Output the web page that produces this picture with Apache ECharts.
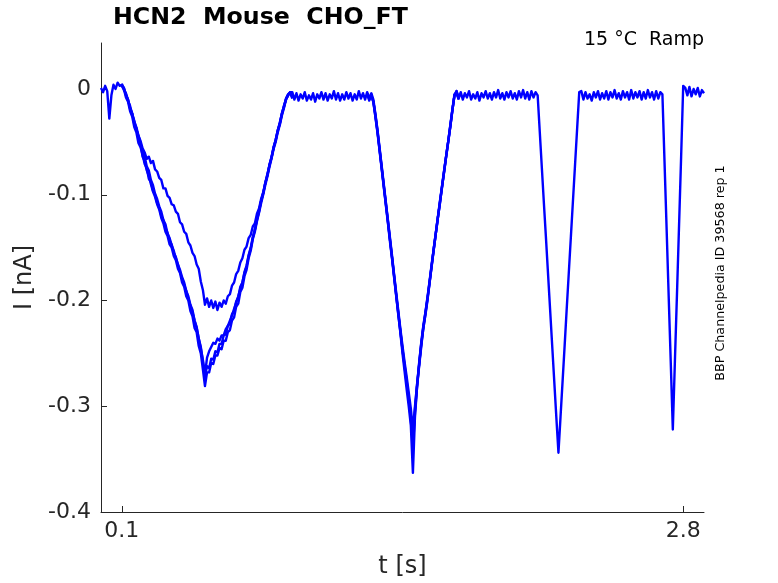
<!DOCTYPE html>
<html>
<head>
<meta charset="utf-8">
<script src="https://cdn.jsdelivr.net/npm/echarts@6/dist/echarts.min.js"></script>
<style>
html,body{margin:0;padding:0;background:#fff;}
#chart{width:778px;height:583px;}
</style>
</head>
<body>
<div id="chart"></div>
<script>
// ---- Data ----
const titleText = 'HCN2  Mouse  CHO_FT';
const conditionText = '15 \u00B0C  Ramp';
const sideText = 'BBP Channelpedia ID 39568 rep 1';
const xTickValues = [0.1, 2.8];
const yTickValues = [-0.4, -0.3, -0.2, -0.1, 0];

// sample times [s]
const time = [
0,0.01,0.02,0.03,0.04,0.05,0.06,0.07,0.08,0.09,
0.1,0.11,0.12,0.13,0.14,0.15,0.16,0.17,0.18,0.19,
0.2,0.21,0.22,0.23,0.24,0.25,0.26,0.27,0.28,0.29,
0.3,0.31,0.32,0.33,0.34,0.35,0.36,0.37,0.38,0.39,
0.4,0.41,0.42,0.43,0.44,0.45,0.46,0.47,0.48,0.49,
0.5,0.51,0.52,0.53,0.54,0.55,0.56,0.57,0.58,0.59,
0.6,0.61,0.62,0.63,0.64,0.65,0.66,0.67,0.68,0.69,
0.7,0.71,0.72,0.73,0.74,0.75,0.76,0.77,0.78,0.79,
0.8,0.81,0.82,0.83,0.84,0.85,0.86,0.87,0.88,0.89,
0.9,0.91,0.92,0.93,0.94,0.95,0.96,0.97,0.98,0.99,
1,1.01,1.02,1.03,1.04,1.05,1.06,1.07,1.08,1.09,
1.1,1.11,1.12,1.13,1.14,1.15,1.16,1.17,1.18,1.19,
1.2,1.21,1.22,1.23,1.24,1.25,1.26,1.27,1.28,1.29,
1.3,1.31,1.32,1.33,1.34,1.35,1.36,1.37,1.38,1.39,
1.4,1.41,1.42,1.43,1.44,1.45,1.46,1.47,1.48,1.49,
1.5,1.51,1.52,1.53,1.54,1.55,1.56,1.57,1.58,1.59,
1.6,1.61,1.62,1.63,1.64,1.65,1.66,1.67,1.68,1.69,
1.7,1.71,1.72,1.73,1.74,1.75,1.76,1.77,1.78,1.79,
1.8,1.81,1.82,1.83,1.84,1.85,1.86,1.87,1.88,1.89,
1.9,1.91,1.92,1.93,1.94,1.95,1.96,1.97,1.98,1.99,
2,2.01,2.02,2.03,2.04,2.05,2.06,2.07,2.08,2.09,
2.1,2.11,2.12,2.13,2.14,2.15,2.16,2.17,2.18,2.19,
2.2,2.21,2.22,2.23,2.24,2.25,2.26,2.27,2.28,2.29,
2.3,2.31,2.32,2.33,2.34,2.35,2.36,2.37,2.38,2.39,
2.4,2.41,2.42,2.43,2.44,2.45,2.46,2.47,2.48,2.49,
2.5,2.51,2.52,2.53,2.54,2.55,2.56,2.57,2.58,2.59,
2.6,2.61,2.62,2.63,2.64,2.65,2.66,2.67,2.68,2.69,
2.7,2.71,2.72,2.73,2.74,2.75,2.76,2.77,2.78,2.79,
2.8,2.81,2.82,2.83,2.84,2.85,2.86,2.87,2.88,2.89,
2.9
];

// sweep 1: full record [nA]
const sweep1 = [
0.001,-0.003,0.003,-0.002,-0.028,-0.006,0.004,0.000,0.006,0.003,
0.004,0.001,-0.006,-0.010,-0.019,-0.023,-0.033,-0.037,-0.047,-0.052,
-0.064,-0.068,-0.077,-0.082,-0.090,-0.097,-0.102,-0.109,-0.114,-0.122,
-0.127,-0.135,-0.139,-0.147,-0.150,-0.158,-0.162,-0.170,-0.174,-0.183,
-0.187,-0.196,-0.200,-0.210,-0.215,-0.226,-0.230,-0.243,-0.250,-0.265,
-0.281,-0.268,-0.268,-0.259,-0.260,-0.252,-0.252,-0.245,-0.246,-0.238,
-0.238,-0.230,-0.228,-0.219,-0.216,-0.206,-0.203,-0.192,-0.188,-0.177,
-0.171,-0.160,-0.153,-0.142,-0.135,-0.125,-0.117,-0.108,-0.100,-0.091,
-0.083,-0.074,-0.066,-0.057,-0.050,-0.041,-0.034,-0.025,-0.018,-0.010,
-0.006,-0.003,-0.003,-0.010,-0.004,-0.011,-0.005,-0.009,-0.003,-0.011,
-0.006,-0.010,-0.004,-0.012,-0.005,-0.009,-0.003,-0.010,-0.004,-0.011,
-0.005,-0.009,-0.002,-0.010,-0.004,-0.011,-0.005,-0.010,-0.003,-0.009,
-0.004,-0.011,-0.005,-0.010,-0.002,-0.009,-0.004,-0.010,-0.003,-0.009,
-0.006,-0.012,-0.025,-0.040,-0.058,-0.074,-0.092,-0.108,-0.126,-0.143,
-0.160,-0.178,-0.196,-0.213,-0.231,-0.250,-0.267,-0.284,-0.300,-0.318,
-0.363,-0.310,-0.282,-0.262,-0.244,-0.226,-0.214,-0.200,-0.184,-0.168,
-0.152,-0.137,-0.122,-0.108,-0.093,-0.079,-0.064,-0.050,-0.036,-0.020,
-0.006,-0.002,-0.009,-0.003,-0.010,-0.004,-0.008,-0.002,-0.010,-0.005,
-0.009,-0.003,-0.011,-0.004,-0.008,-0.002,-0.009,-0.004,-0.010,-0.003,
-0.008,-0.001,-0.009,-0.004,-0.010,-0.003,-0.008,-0.002,-0.009,-0.004,
-0.010,-0.002,-0.008,-0.001,-0.009,-0.003,-0.010,-0.002,-0.008,-0.003,
-0.006,-0.040,-0.074,-0.108,-0.141,-0.175,-0.209,-0.243,-0.277,-0.311,
-0.344,-0.310,-0.276,-0.242,-0.207,-0.173,-0.139,-0.105,-0.071,-0.037,
-0.003,-0.002,-0.010,-0.003,-0.009,-0.005,-0.011,-0.003,-0.008,-0.002,
-0.010,-0.004,-0.009,-0.002,-0.010,-0.003,-0.008,-0.001,-0.009,-0.004,
-0.010,-0.002,-0.008,-0.003,-0.010,-0.001,-0.009,-0.003,-0.008,-0.002,
-0.010,-0.003,-0.009,-0.001,-0.008,-0.003,-0.010,-0.002,-0.009,-0.003,
-0.005,-0.068,-0.131,-0.195,-0.258,-0.322,-0.258,-0.194,-0.129,-0.064,
0.003,0.001,-0.006,0.002,-0.007,0.000,-0.005,0.001,-0.007,-0.001,
-0.004
];

// sweeps 2-4 where they separate from sweep 1
// first ramp: samples time[10] .. time[92]
const dip1Start = 10;
const sweep2Dip1 = [
0.003,-0.001,-0.004,-0.011,-0.016,-0.024,-0.030,-0.038,-0.044,-0.051,
-0.059,-0.064,-0.073,-0.077,-0.086,-0.091,-0.099,-0.104,-0.111,-0.116,
-0.124,-0.128,-0.137,-0.141,-0.148,-0.153,-0.160,-0.166,-0.173,-0.179,
-0.185,-0.191,-0.198,-0.205,-0.211,-0.219,-0.226,-0.236,-0.245,-0.256,
-0.270,-0.254,-0.248,-0.244,-0.240,-0.241,-0.236,-0.238,-0.233,-0.233,
-0.227,-0.224,-0.219,-0.214,-0.208,-0.202,-0.196,-0.189,-0.183,-0.174,
-0.168,-0.158,-0.151,-0.141,-0.133,-0.124,-0.116,-0.106,-0.099,-0.089,
-0.082,-0.072,-0.065,-0.055,-0.048,-0.039,-0.032,-0.023,-0.016,-0.009,
-0.005,-0.004,-0.008
];
const sweep3Dip1 = [
0.005,0.000,-0.008,-0.012,-0.021,-0.026,-0.036,-0.041,-0.051,-0.055,
-0.062,-0.071,-0.075,-0.085,-0.088,-0.096,-0.100,-0.108,-0.112,-0.120,
-0.124,-0.131,-0.136,-0.143,-0.147,-0.155,-0.159,-0.166,-0.171,-0.178,
-0.183,-0.191,-0.196,-0.204,-0.209,-0.219,-0.225,-0.236,-0.244,-0.258,
-0.272,-0.262,-0.264,-0.255,-0.256,-0.248,-0.249,-0.241,-0.241,-0.233,
-0.232,-0.224,-0.222,-0.213,-0.210,-0.201,-0.197,-0.187,-0.183,-0.173,
-0.167,-0.157,-0.150,-0.140,-0.133,-0.123,-0.115,-0.106,-0.098,-0.089,
-0.081,-0.072,-0.064,-0.056,-0.048,-0.040,-0.032,-0.024,-0.016,-0.010,
-0.006,-0.003,-0.009
];
const sweep4Dip1 = [
0.003,0.001,-0.005,-0.010,-0.018,-0.023,-0.031,-0.036,-0.044,-0.049,
-0.056,-0.060,-0.066,-0.064,-0.070,-0.068,-0.076,-0.078,-0.084,-0.086,
-0.094,-0.094,-0.101,-0.103,-0.109,-0.110,-0.116,-0.118,-0.126,-0.128,
-0.135,-0.137,-0.145,-0.148,-0.155,-0.158,-0.166,-0.170,-0.182,-0.190,
-0.204,-0.198,-0.206,-0.200,-0.207,-0.201,-0.209,-0.202,-0.206,-0.200,
-0.203,-0.196,-0.194,-0.186,-0.183,-0.175,-0.172,-0.164,-0.160,-0.152,
-0.149,-0.141,-0.138,-0.130,-0.127,-0.118,-0.113,-0.104,-0.098,-0.089,
-0.081,-0.072,-0.065,-0.055,-0.049,-0.039,-0.033,-0.023,-0.017,-0.009,
-0.005,-0.003,-0.007
];
// second ramp: samples time[128] .. time[172]
const dip2Start = 128;
const sweep2Dip2 = [
-0.004,-0.010,-0.005,-0.013,-0.027,-0.042,-0.059,-0.076,-0.093,-0.110,
-0.127,-0.145,-0.161,-0.179,-0.196,-0.214,-0.230,-0.247,-0.262,-0.278,
-0.294,-0.312,-0.340,-0.306,-0.282,-0.259,-0.240,-0.224,-0.211,-0.197,
-0.182,-0.166,-0.151,-0.136,-0.121,-0.106,-0.092,-0.077,-0.063,-0.049,
-0.034,-0.019,-0.005,-0.004,-0.010
];
const sweep3Dip2 = [
-0.005,-0.008,-0.004,-0.010,-0.024,-0.039,-0.056,-0.073,-0.090,-0.107,
-0.124,-0.141,-0.158,-0.176,-0.193,-0.210,-0.227,-0.243,-0.258,-0.272,
-0.287,-0.302,-0.322,-0.300,-0.279,-0.260,-0.241,-0.225,-0.212,-0.198,
-0.183,-0.167,-0.152,-0.137,-0.122,-0.107,-0.092,-0.078,-0.063,-0.049,
-0.035,-0.020,-0.006,-0.003,-0.009
];
const sweep4Dip2 = [
-0.004,-0.011,-0.006,-0.012,-0.026,-0.041,-0.057,-0.075,-0.091,-0.109,
-0.125,-0.143,-0.160,-0.177,-0.195,-0.212,-0.229,-0.246,-0.261,-0.276,
-0.292,-0.308,-0.332,-0.303,-0.280,-0.261,-0.242,-0.227,-0.213,-0.199,
-0.183,-0.168,-0.152,-0.137,-0.122,-0.108,-0.093,-0.078,-0.064,-0.050,
-0.035,-0.020,-0.006,-0.002,-0.009
];

// ---- Build series ----
function pairs(values, start) {
  return values.map((v, i) => [time[start + i], v]);
}
const traceColor = '#0000ff';
function lineSeries(data) {
  return {
    type: 'line', data: data, showSymbol: false, symbol: 'none',
    lineStyle: { color: traceColor, width: 2.4, join: 'round' }, itemStyle: { color: traceColor },
    animation: false, silent: true
  };
}
const series = [
  lineSeries(pairs(sweep2Dip1, dip1Start)),
  lineSeries(pairs(sweep3Dip1, dip1Start)),
  lineSeries(pairs(sweep4Dip1, dip1Start)),
  lineSeries(pairs(sweep2Dip2, dip2Start)),
  lineSeries(pairs(sweep3Dip2, dip2Start)),
  lineSeries(pairs(sweep4Dip2, dip2Start)),
  lineSeries(pairs(sweep1, 0))
];

const FONT = 'DejaVu Sans';
const axisColor = '#262626';

const chart = echarts.init(document.getElementById('chart'), null, { renderer: 'canvas' });
chart.setOption({
  backgroundColor: '#ffffff',
  animation: false,
  title: {
    text: titleText, left: 113, top: 6, padding: 0,
    textStyle: { fontFamily: FONT, fontSize: 23.7, fontWeight: 'bold', color: '#000' }
  },
  grid: { left: 101, right: 74, top: 43, bottom: 71, containLabel: false, outerBoundsMode: 'none' },
  xAxis: {
    type: 'value', min: 0, max: 2.9,
    name: 't [s]', nameLocation: 'middle', nameGap: 43,
    nameTextStyle: { fontFamily: FONT, fontSize: 24, color: axisColor },
    axisLine: { show: true, onZero: false, lineStyle: { color: axisColor, width: 1 } },
    axisTick: { show: true, inside: true, length: 6, customValues: xTickValues, lineStyle: { color: axisColor } },
    axisLabel: { customValues: xTickValues, fontFamily: FONT, fontSize: 22, color: axisColor, margin: 8,
      formatter: v => String(v) },
    splitLine: { show: false }
  },
  yAxis: {
    type: 'value', min: -0.4, max: 0.0435,
    name: 'I [nA]', nameLocation: 'middle', nameGap: 54, nameRotate: 90,
    nameTextStyle: { fontFamily: FONT, fontSize: 24, color: axisColor },
    axisLine: { show: true, onZero: false, lineStyle: { color: axisColor, width: 1 } },
    axisTick: { show: true, inside: true, length: 6, customValues: yTickValues, lineStyle: { color: axisColor } },
    axisLabel: { customValues: yTickValues, fontFamily: FONT, fontSize: 22, color: axisColor, margin: 10,
      formatter: v => (v === 0 ? '0' : String(v)) },
    splitLine: { show: false }
  },
  graphic: [
    { type: 'text', right: 74, top: 31,
      style: { text: conditionText, fontFamily: FONT, fontSize: 19, fill: '#000' } },
    { type: 'text', x: 721, y: 273, rotation: Math.PI / 2,
      style: { text: sideText, fontFamily: FONT, fontSize: 12.7, fill: '#000',
        textAlign: 'center', textVerticalAlign: 'middle' } }
  ],
  series: series
});
</script>
</body>
</html>
